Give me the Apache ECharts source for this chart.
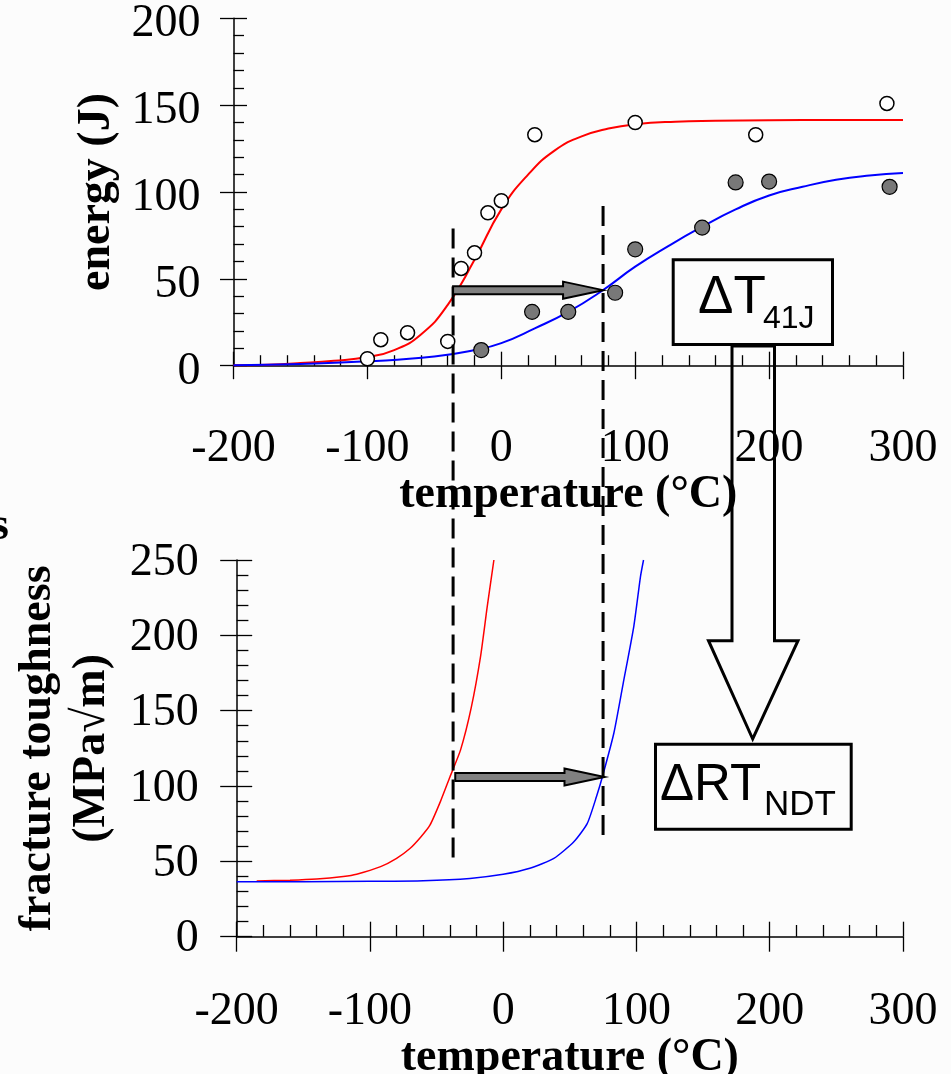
<!DOCTYPE html>
<html>
<head>
<meta charset="utf-8">
<script src="https://cdn.jsdelivr.net/npm/echarts@6/dist/echarts.min.js"></script>
<style>
  html, body { margin: 0; padding: 0; background: #fcfcfc; }
  #chart { width: 951px; height: 1074px; }
</style>
</head>
<body>
<div id="chart"></div>
<script>
// Charpy energy (top): fitted curves
const energyTempRed = [-200, -175, -150, -125, -100, -80, -60, -40, -20, 0, 20, 40, 60, 80, 100, 130, 160, 200, 250, 300]
const energyRed = [0.3, 0.6, 1.5, 2.8, 5, 9, 18, 35, 61, 90, 110, 124, 132, 136.5, 139, 140.5, 141, 141.3, 141.5, 141.5]
const energyTempBlue = [-200, -150, -100, -50, -20, 0, 25, 50, 75, 100, 125, 150, 175, 200, 225, 250, 275, 300]
const energyBlue = [0.3, 1, 2.5, 5.3, 9, 13, 21.5, 31, 43, 57, 69, 80, 90, 98, 103, 107, 109.5, 111]

// Charpy test points
const unirrTemp = [-100, -90, -70, -40, -30, -20, -10, 0, 25, 100, 190, 288]
const unirrEnergy = [4, 15, 19, 14, 56, 65, 88, 95, 133, 140, 133, 151]
const irrTemp = [-15, 23, 50, 85, 100, 150, 175, 200, 290]
const irrEnergy = [9, 31, 31, 42, 67, 79.5, 105.5, 106, 103]

// fracture toughness (bottom)
const toughTempRed = [-185, -160, -140, -120, -110, -92, -80, -70, -62, -55, -47, -40, -32, -24, -17, -12, -7]
const toughRed = [37, 37.5, 38.3, 40, 41.5, 46.5, 52, 58.5, 66, 74, 90, 106, 124, 152, 186, 219, 250]
const toughTempBlue = [-200, -150, -100, -60, -25, 0, 20, 38, 53, 63, 70, 75, 83, 90, 98, 103, 105.3]
const toughBlue = [36.5, 36.5, 36.8, 37.2, 38.7, 41.4, 45.4, 52, 63, 75, 93, 108, 135, 168, 206, 239, 250]

// shift annotation (data units)
const shiftFrom = -36
const shiftTo = 76
const arrowEnergy = 43.5
const arrowTough = 106
const dashTopEnergy = [79, 92]
const dashBottomTough = [47.6, 63]

const serif = "'Liberation Serif', 'Times New Roman', serif"
const sans = "'Liberation Sans', Arial, sans-serif"

const zip = (xs, ys) => xs.map((x, i) => [x, ys[i]])

const grids = [
  { left: 233.5, top: 18.3, width: 669.5, height: 347.4, outerBoundsMode: 'none', containLabel: false },
  { left: 236.7, top: 560, width: 666.3, height: 376.7, outerBoundsMode: 'none', containLabel: false }
]

const tickStyle = { color: '#000', width: 1.3 }

function mainX (g, margin, gap, tickLen) {
  return {
    gridIndex: g, type: 'value', min: -200, max: 300, interval: 100, position: 'bottom',
    axisLine: { onZero: false, lineStyle: { color: '#000', width: 1.5 } },
    axisTick: { length: tickLen, lineStyle: tickStyle },
    axisLabel: { margin: margin, fontSize: 46, fontFamily: serif, color: '#000' },
    splitLine: { show: false },
    name: 'temperature (°C)', nameLocation: 'middle', nameGap: gap,
    nameTextStyle: { fontFamily: serif, fontWeight: 'bold', fontSize: 46, color: '#000' }
  }
}
// twin axis drawn at the same place, only for the inward ticks
function innerX (g, h, tickLen, minorLen) {
  return {
    gridIndex: g, type: 'value', min: -200, max: 300, interval: 100, position: 'top', offset: -h,
    axisLine: { show: false, onZero: false },
    axisTick: { length: tickLen, lineStyle: tickStyle },
    minorTick: { show: true, splitNumber: 5, length: minorLen, lineStyle: tickStyle },
    axisLabel: { show: false },
    splitLine: { show: false }
  }
}
// labels sit a little below their ticks: a short line box, top aligned
function mainY (g, max, margin, drop, name, gap, lineH, tickLen) {
  return {
    gridIndex: g, type: 'value', min: 0, max: max, interval: 50, position: 'left',
    axisLine: { onZero: false, lineStyle: { color: '#000', width: 1.5 } },
    axisTick: { length: tickLen, lineStyle: tickStyle },
    axisLabel: {
      margin: margin, verticalAlign: 'top', lineHeight: drop * 2,
      fontSize: 46, fontFamily: serif, color: '#000'
    },
    splitLine: { show: false },
    name: name, nameLocation: 'middle', nameGap: gap,
    nameTextStyle: { fontFamily: serif, fontWeight: 'bold', fontSize: 46, color: '#000', lineHeight: lineH }
  }
}
function innerY (g, max, w, tickLen, minorLen) {
  return {
    gridIndex: g, type: 'value', min: 0, max: max, interval: 50, position: 'right', offset: -w,
    axisLine: { show: false, onZero: false },
    axisTick: { length: tickLen, lineStyle: tickStyle },
    minorTick: { show: true, splitNumber: 5, length: minorLen, lineStyle: tickStyle },
    axisLabel: { show: false },
    splitLine: { show: false }
  }
}

const chart = echarts.init(document.getElementById('chart'), null, { renderer: 'canvas' })

chart.setOption({
  animation: false,
  backgroundColor: '#fcfcfc',
  grid: grids,
  xAxis: [
    mainX(0, 60, 104, 13.5),
    innerX(0, grids[0].height, 14, 10.5),
    mainX(1, 52, 92, 15),
    innerX(1, grids[1].height, 15, 11.7)
  ],
  yAxis: [
    mainY(0, 200, 33, 6, 'energy (J)', 94, 46, 13.5),
    innerY(0, 200, grids[0].width, 13.5, 10.5),
    mainY(1, 250, 38, 2.5, 'fracture toughness\n(MPa√m)', 109, 54, 16.5),
    innerY(1, 250, grids[1].width, 15.5, 11.7)
  ],
  series: [
    {
      name: 'unirradiated fit', type: 'line', xAxisIndex: 0, yAxisIndex: 0,
      smooth: true, showSymbol: false, lineStyle: { color: '#ff0000', width: 2 },
      data: zip(energyTempRed, energyRed)
    },
    {
      name: 'irradiated fit', type: 'line', xAxisIndex: 0, yAxisIndex: 0,
      smooth: true, showSymbol: false, lineStyle: { color: '#0000ff', width: 2 },
      data: zip(energyTempBlue, energyBlue)
    },
    {
      name: 'unirradiated', type: 'scatter', xAxisIndex: 0, yAxisIndex: 0, z: 5,
      symbol: 'circle', symbolSize: 14,
      itemStyle: { color: '#ffffff', borderColor: '#000', borderWidth: 1.5, opacity: 1 },
      data: zip(unirrTemp, unirrEnergy)
    },
    {
      name: 'irradiated', type: 'scatter', xAxisIndex: 0, yAxisIndex: 0, z: 5,
      symbol: 'circle', symbolSize: 15,
      itemStyle: { color: '#787878', borderColor: '#000', borderWidth: 1.2, opacity: 1 },
      data: zip(irrTemp, irrEnergy)
    },
    {
      name: 'KIc unirradiated', type: 'line', xAxisIndex: 2, yAxisIndex: 2,
      smooth: 0.2, showSymbol: false, lineStyle: { color: '#ff0000', width: 1.5 },
      data: zip(toughTempRed, toughRed)
    },
    {
      name: 'KIc irradiated', type: 'line', xAxisIndex: 2, yAxisIndex: 2,
      smooth: 0.2, showSymbol: false, lineStyle: { color: '#0000ff', width: 1.5 },
      data: zip(toughTempBlue, toughBlue)
    }
  ]
})

// annotations: dashed shift lines, grey arrows, labelled boxes
function px (g, x, y) {
  return chart.convertToPixel({ xAxisIndex: g * 2, yAxisIndex: g * 2 }, [x, y])
}
function arrowShape (a, b) {
  const y = a[1], xs = a[0], xe = b[0]
  const head = 40, hw = 8.5, sw = 4
  return [[xs, y - sw], [xe - head, y - sw], [xe - head, y - hw], [xe, y],
    [xe - head, y + hw], [xe - head, y + sw], [xs, y + sw]]
}

const graphics = []
;[shiftFrom, shiftTo].forEach((t, i) => {
  const p0 = px(0, t, dashTopEnergy[i])
  const p1 = px(1, t, dashBottomTough[i])
  graphics.push({
    type: 'line', z: 50,
    shape: { x1: p0[0], y1: p0[1], x2: p0[0], y2: p1[1] },
    style: { stroke: '#000', lineWidth: 3, lineDash: [20, 9] }
  })
})
graphics.push({
  type: 'polygon', z: 60,
  shape: { points: arrowShape(px(0, shiftFrom, arrowEnergy), px(0, shiftTo, arrowEnergy)) },
  style: { fill: '#808080', stroke: '#000', lineWidth: 2 }
})
graphics.push({
  type: 'polygon', z: 60,
  shape: { points: arrowShape(px(1, shiftFrom, arrowTough), px(1, shiftTo, arrowTough)) },
  style: { fill: '#808080', stroke: '#000', lineWidth: 2 }
})

// big hollow arrow between the two boxes
graphics.push({
  type: 'polygon', z: 60,
  shape: { points: [[732, 346], [774.5, 346], [774.5, 640.7], [798, 640.7], [752.7, 739],
    [708.5, 640.7], [732, 640.7]] },
  style: { fill: null, stroke: '#000', lineWidth: 3 }
})
graphics.push({
  type: 'rect', z: 60,
  shape: { x: 673.2, y: 259.8, width: 159.3, height: 84.7 },
  style: { fill: null, stroke: '#000', lineWidth: 3 }
})
graphics.push({
  type: 'rect', z: 60,
  shape: { x: 655.5, y: 744.2, width: 195.7, height: 85 },
  style: { fill: null, stroke: '#000', lineWidth: 3 }
})
graphics.push({
  type: 'text', z: 61,
  style: { text: 'ΔT', x: 698, y: 298, font: '53px ' + sans, fill: '#000', align: 'left', verticalAlign: 'middle' }
})
graphics.push({
  type: 'text', z: 61,
  style: { text: '41J', x: 763, y: 319, font: '32px ' + sans, fill: '#000', align: 'left', verticalAlign: 'middle' }
})
graphics.push({
  type: 'text', z: 61,
  style: { text: 'ΔRT', x: 660, y: 786, font: '51px ' + sans, fill: '#000', align: 'left', verticalAlign: 'middle' }
})
graphics.push({
  type: 'text', z: 61,
  style: { text: 'NDT', x: 764, y: 805, font: '35px ' + sans, fill: '#000', align: 'left', verticalAlign: 'middle' }
})
// clipped leftover letter at the left edge
graphics.push({
  type: 'text', z: 61,
  style: { text: 's', x: -9, y: 527, font: 'bold 46px ' + serif, fill: '#000', align: 'left', verticalAlign: 'middle' }
})

chart.setOption({ graphic: graphics })
</script>
</body>
</html>
